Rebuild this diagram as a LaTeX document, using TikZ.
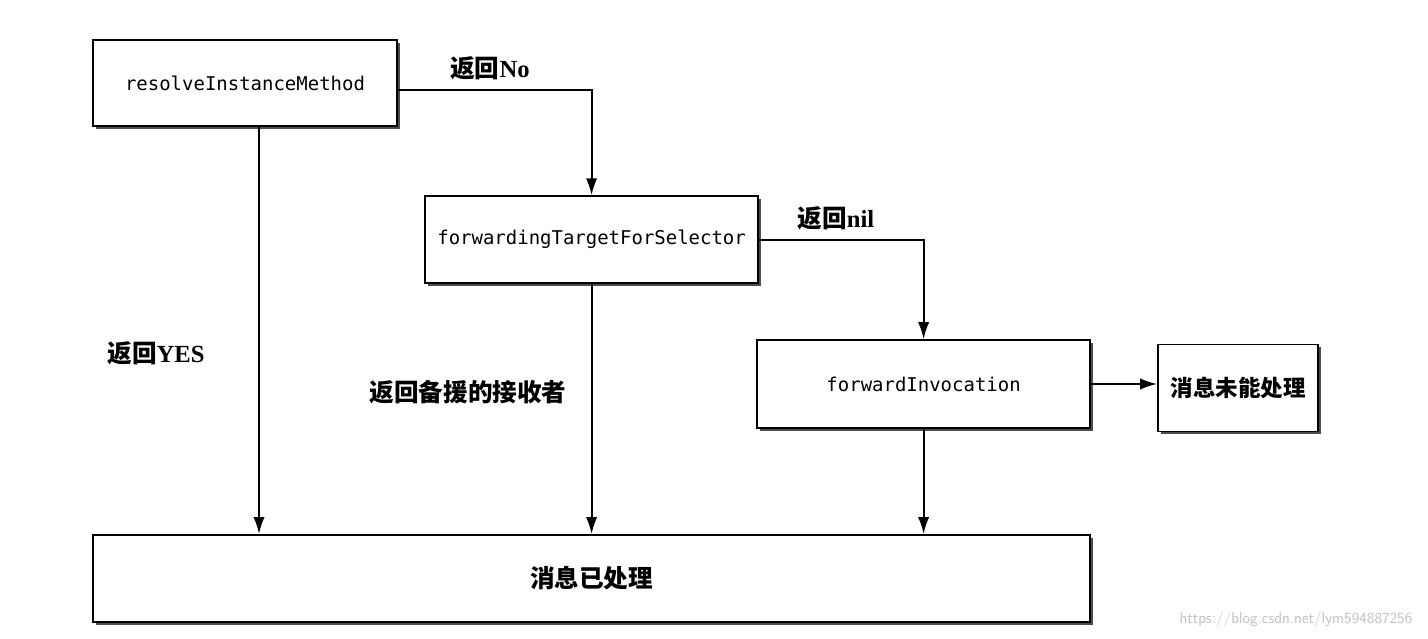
\documentclass[tikz,border=0pt]{standalone}
\usepackage{fontspec}
\setmainfont{Liberation Serif}
\setmonofont{DejaVu Sans Mono}
\newfontfamily\cjk{Noto Sans CJK SC}
\usepackage{tikz}
\usetikzlibrary{shadows,arrows.meta}

\tikzset{
  stepbox/.style={draw, line width=1.3pt, fill=white, inner sep=0pt, anchor=center,
    drop shadow={shadow xshift=2pt, shadow yshift=-2pt, fill=black!70, opacity=1},
    font=\ttfamily\fontsize{13.5}{16}\selectfont},
  lab/.style={inner sep=0pt, anchor=center, font=\bfseries\fontsize{17.5}{20}\selectfont},
  flow/.style={-{Latex[length=12pt,width=8pt]}, line width=1.3pt}
}

\begin{document}
\begin{tikzpicture}
\useasboundingbox (0cm,0cm) rectangle (35.7cm,-15.975cm);
% boxes
\node[stepbox, minimum width=7.6cm, minimum height=2.15cm] (resolve) at (6.125cm,-2.075cm) {resolveInstanceMethod};
\node[stepbox, minimum width=8.325cm, minimum height=2.175cm] (fwdtarget) at (14.79cm,-5.99cm) {forwardingTargetForSelector};
\node[stepbox, minimum width=8.325cm, minimum height=2.2cm] (fwdinv) at (23.09cm,-9.6cm) {forwardInvocation};
\node[stepbox, minimum width=4cm, minimum height=2.175cm, font=\cjk\bfseries\fontsize{16}{19}\selectfont] (unhandled) at (30.95cm,-9.7cm) {消息未能处理};
\node[stepbox, minimum width=24.925cm, minimum height=2.175cm, font=\cjk\bfseries\fontsize{17.5}{20}\selectfont] (handled) at (14.79cm,-14.46cm) {消息已处理};
% connectors
\coordinate (yesout) at ([xshift=0.35cm]resolve.south);
\draw[flow] (yesout) -- (yesout |- handled.north);
\draw[flow] ([yshift=-0.175cm]resolve.east) -| (fwdtarget.north);
\draw[flow] (fwdtarget.south) -- (fwdtarget.south |- handled.north);
\draw[flow] (fwdtarget.east) -| (fwdinv.north);
\draw[flow] (fwdinv.south) -- (fwdinv.south |- handled.north);
\draw[flow] (fwdinv.east) -- (fwdinv.east -| unhandled.west);
% labels
\node[lab] (nolab) at (12.25cm,-1.7cm) {{\cjk 返回}No};
\node[lab] (nillab) at (20.9cm,-5.45cm) {{\cjk 返回}nil};
\node[lab] (yeslab) at (3.9cm,-8.83cm) {{\cjk 返回}YES};
\node[lab] (backuplab) at (11.7cm,-9.8cm) {\cjk 返回备援的接收者};
\node[inner sep=0pt, text=black!25, font=\sffamily\fontsize{11}{13}\selectfont] (mark) at (32.4cm,-15.5cm) {https://blog.csdn.net/lym594887256};
\end{tikzpicture}
\end{document}
